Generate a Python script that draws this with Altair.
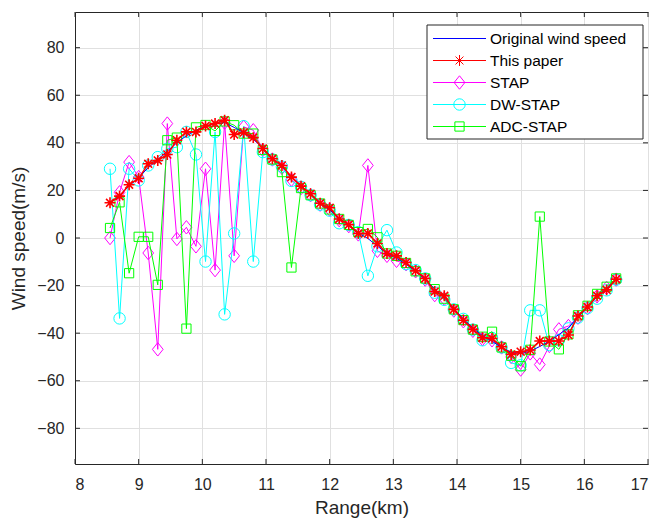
import altair as alt
import pandas as pd

# ---------------- data ----------------
range_km = [8.55, 8.70, 8.85, 9.00, 9.15, 9.30, 9.45, 9.60, 9.75, 9.90,
            10.05, 10.20, 10.35, 10.50, 10.65, 10.80, 10.95, 11.10, 11.25, 11.40,
            11.55, 11.70, 11.85, 12.00, 12.15, 12.30, 12.45, 12.60, 12.75, 12.90,
            13.05, 13.20, 13.35, 13.50, 13.65, 13.80, 13.95, 14.10, 14.25, 14.40,
            14.55, 14.70, 14.85, 15.00, 15.15, 15.30, 15.45, 15.60, 15.75, 15.90,
            16.05, 16.20, 16.35, 16.50]

original = [14.8, 18.0, 21.8, 25.5, 29.5, 33.0, 36.5, 40.0, 43.0, 45.3,
            47.0, 48.0, 48.5, 46.5, 44.3, 41.5, 37.8, 33.6, 30.0, 25.9,
            22.0, 18.6, 14.8, 11.8, 8.4, 5.3, 2.1, -0.2, -3.4, -6.6,
            -8.5, -11.0, -14.0, -17.4, -21.5, -25.0, -29.6, -34.0, -37.8, -41.0,
            -43.4, -46.0, -48.0, -48.6, -47.6, -45.6, -43.4, -40.6, -37.8, -33.2,
            -29.0, -24.6, -21.2, -17.4]

this_paper = [14.8, 17.6, 22.4, 25.1, 31.2, 32.6, 35.1, 41.1, 44.6, 44.6,
              47.1, 48.1, 49.5, 43.5, 44.3, 42.2, 37.6, 33.3, 30.5, 25.6,
              21.8, 18.6, 14.6, 12.7, 8.0, 5.6, 1.9, 1.9, -2.3, -6.5,
              -7.5, -10.3, -13.8, -17.0, -22.5, -24.3, -30.0, -34.6, -38.4, -41.9,
              -42.2, -45.7, -49.0, -47.8, -47.1, -43.3, -43.3, -43.3, -40.8, -32.8,
              -29.0, -24.3, -21.8, -17.3]

stap = [0.0, 19.2, 31.9, 25.6, -6.3, -46.8, 48.1, -0.4, 4.5, -3.5,
        29.1, -13.5, 48.5, -7.5, 46.7, 45.3, 37.0, 33.0, 29.5, 24.5,
        21.0, 18.0, 14.0, 12.0, 7.5, 5.0, 1.5, 30.5, -5.4, -7.5,
        -9.6, -11.0, -14.0, -17.5, -24.0, -25.5, -30.5, -35.0, -39.0, -42.5,
        -43.0, -46.0, -50.0, -55.3, -48.5, -53.2, -45.4, -38.4, -37.0, -33.5,
        -29.5, -24.5, -21.0, -17.5]

dw_stap = [29.1, -33.8, 29.1, 24.2, 30.5, 34.0, 37.5, 38.2, 44.6, 35.1,
           -9.9, 44.6, -32.1, 1.9, 47.0, -9.9, 36.1, 33.0, 30.0, 24.0,
           21.5, 18.0, 14.0, 11.5, 6.2, 5.5, 2.5, -15.9, -3.5, 3.3,
           -6.1, -11.0, -13.5, -17.0, -23.0, -26.0, -30.0, -34.0, -38.5, -43.0,
           -42.0, -46.0, -52.5, -53.5, -30.4, -30.4, -45.0, -43.0, -38.0, -33.5,
           -29.5, -25.5, -22.0, -17.5]

adc_stap = [4.2, 15.0, -14.8, 0.5, 0.5, -19.7, 41.1, 42.2, -38.1, 46.5,
            47.5, 45.0, 49.0, 47.4, 43.9, 43.9, 37.0, 33.0, 27.7, -12.4,
            21.0, 18.0, 14.5, 12.0, 8.0, 5.5, 2.5, 3.8, 0.3, -6.5,
            -7.5, -10.5, -14.0, -17.0, -21.5, -25.5, -30.0, -34.5, -38.5, -41.5,
            -39.4, -46.0, -49.5, -53.9, -47.0, 9.0, -43.5, -46.8, -40.5, -32.5,
            -28.5, -23.5, -20.5, -17.0]

x_ticks = [8, 9, 10, 11, 12, 13, 14, 15, 16, 17]
y_ticks = [-80, -60, -40, -20, 0, 20, 40, 60, 80]

series_names = ["Original wind speed", "This paper", "STAP", "DW-STAP", "ADC-STAP"]
series_values = [original, this_paper, stap, dw_stap, adc_stap]

# ---------------- styles ----------------
colors = ["#0000ff", "#ff0000", "#ff00ff", "#00ffff", "#00ff00"]
ASTER = "M0,-1L0,1M-1,0L1,0M-0.72,-0.72L0.72,0.72M-0.72,0.72L0.72,-0.72"
DIAM = "M0,-1L0.8,0L0,1L-0.8,0Z"
shapes = [None, ASTER, DIAM, "circle", "square"]
sizes = [0, 120, 180, 130, 85]
line_w = [1.0, 1.5, 1.0, 1.0, 1.0]
mark_w = [1.0, 1.6, 1.0, 1.0, 1.0]

W, H = 573, 452
FONT = "Liberation Sans"
TXT = "#262626"

rows = []
for name, vals in zip(series_names, series_values):
    for r, v in zip(range_km, vals):
        rows.append({"range": r, "speed": v, "series": name})
df = pd.DataFrame(rows)

xs = alt.Scale(domain=[8, 17], nice=False, zero=False)
ys = alt.Scale(domain=[-95, 95], nice=False, zero=False)

x_axis = alt.Axis(values=x_ticks, title="Range(km)", grid=True, labelPadding=12,
                  titlePadding=6, format="d")
y_axis = alt.Axis(values=y_ticks, title="Wind speed(m/s)", grid=True, labelPadding=11,
                  titlePadding=8, format="d")


def X(field):
    return alt.X(field, scale=xs, axis=x_axis)


def Y(field):
    return alt.Y(field, scale=ys, axis=y_axis)


layers = []
draw_order = [2, 3, 4, 0, 1]
for i in draw_order:
    name = series_names[i]
    base = alt.Chart(df).transform_filter(alt.datum.series == name)
    line = base.mark_line(color=colors[i], strokeWidth=line_w[i]).encode(
        x=X("range:Q"), y=Y("speed:Q"), order="range:Q")
    layers.append(line)
    if shapes[i] is not None:
        pts = base.mark_point(shape=shapes[i], size=sizes[i], filled=False,
                              color=colors[i], strokeWidth=mark_w[i], opacity=1).encode(
            x=X("range:Q"), y=Y("speed:Q"))
        layers.append(pts)

# inward ticks (MATLAB box style)
xt = pd.DataFrame({"t": x_ticks})
yt = pd.DataFrame({"t": y_ticks})
TL = 5
tick_layers = [
    alt.Chart(xt).mark_rule(color=TXT, strokeWidth=1).encode(
        x=X("t:Q"), y=alt.value(H), y2=alt.value(H - TL)),
    alt.Chart(xt).mark_rule(color=TXT, strokeWidth=1).encode(
        x=X("t:Q"), y=alt.value(0), y2=alt.value(TL)),
    alt.Chart(yt).mark_rule(color=TXT, strokeWidth=1).encode(
        y=Y("t:Q"), x=alt.value(0), x2=alt.value(TL)),
    alt.Chart(yt).mark_rule(color=TXT, strokeWidth=1).encode(
        y=Y("t:Q"), x=alt.value(W), x2=alt.value(W - TL)),
]

# manual legend (line + marker, MATLAB style)
LX0, LX1, LY0, LY1 = 352, 568, 13, 127
one = pd.DataFrame({"a": [0]})
leg_layers = [alt.Chart(one).mark_rect(fill="white", stroke=TXT, strokeWidth=1).encode(
    x=alt.value(LX0), x2=alt.value(LX1), y=alt.value(LY0), y2=alt.value(LY1))]
for k, name in enumerate(series_names):
    ly = 26.5 + 22 * k
    leg_layers.append(alt.Chart(one).mark_rule(color=colors[k], strokeWidth=1).encode(
        x=alt.value(358), x2=alt.value(411), y=alt.value(ly)))
    if shapes[k] is not None:
        leg_layers.append(alt.Chart(one).mark_point(
            shape=shapes[k], size=sizes[k], filled=False, color=colors[k],
            strokeWidth=1, opacity=1).encode(x=alt.value(384.5), y=alt.value(ly)))
    leg_layers.append(alt.Chart(one).mark_text(
        align="left", baseline="middle", font=FONT, fontSize=15.5, color="black",
        text=name).encode(x=alt.value(415), y=alt.value(ly)))

chart = alt.layer(*layers, *tick_layers, *leg_layers).properties(
    width=W, height=H,
    autosize=alt.AutoSizeParams(type="none"),
    padding={"left": 75, "top": 12, "right": 10, "bottom": 58},
    background="white",
).configure_axis(
    labelFont=FONT, titleFont=FONT, labelFontSize=16, titleFontSize=19,
    labelColor=TXT, titleColor=TXT, titleFontWeight="normal",
    domainColor=TXT, domainWidth=1, tickSize=0, gridColor="#e0e0e0", gridWidth=1,
).configure_view(stroke=TXT, strokeWidth=1)

chart.save("out.html", embed_options={"renderer": "svg", "actions": False})
